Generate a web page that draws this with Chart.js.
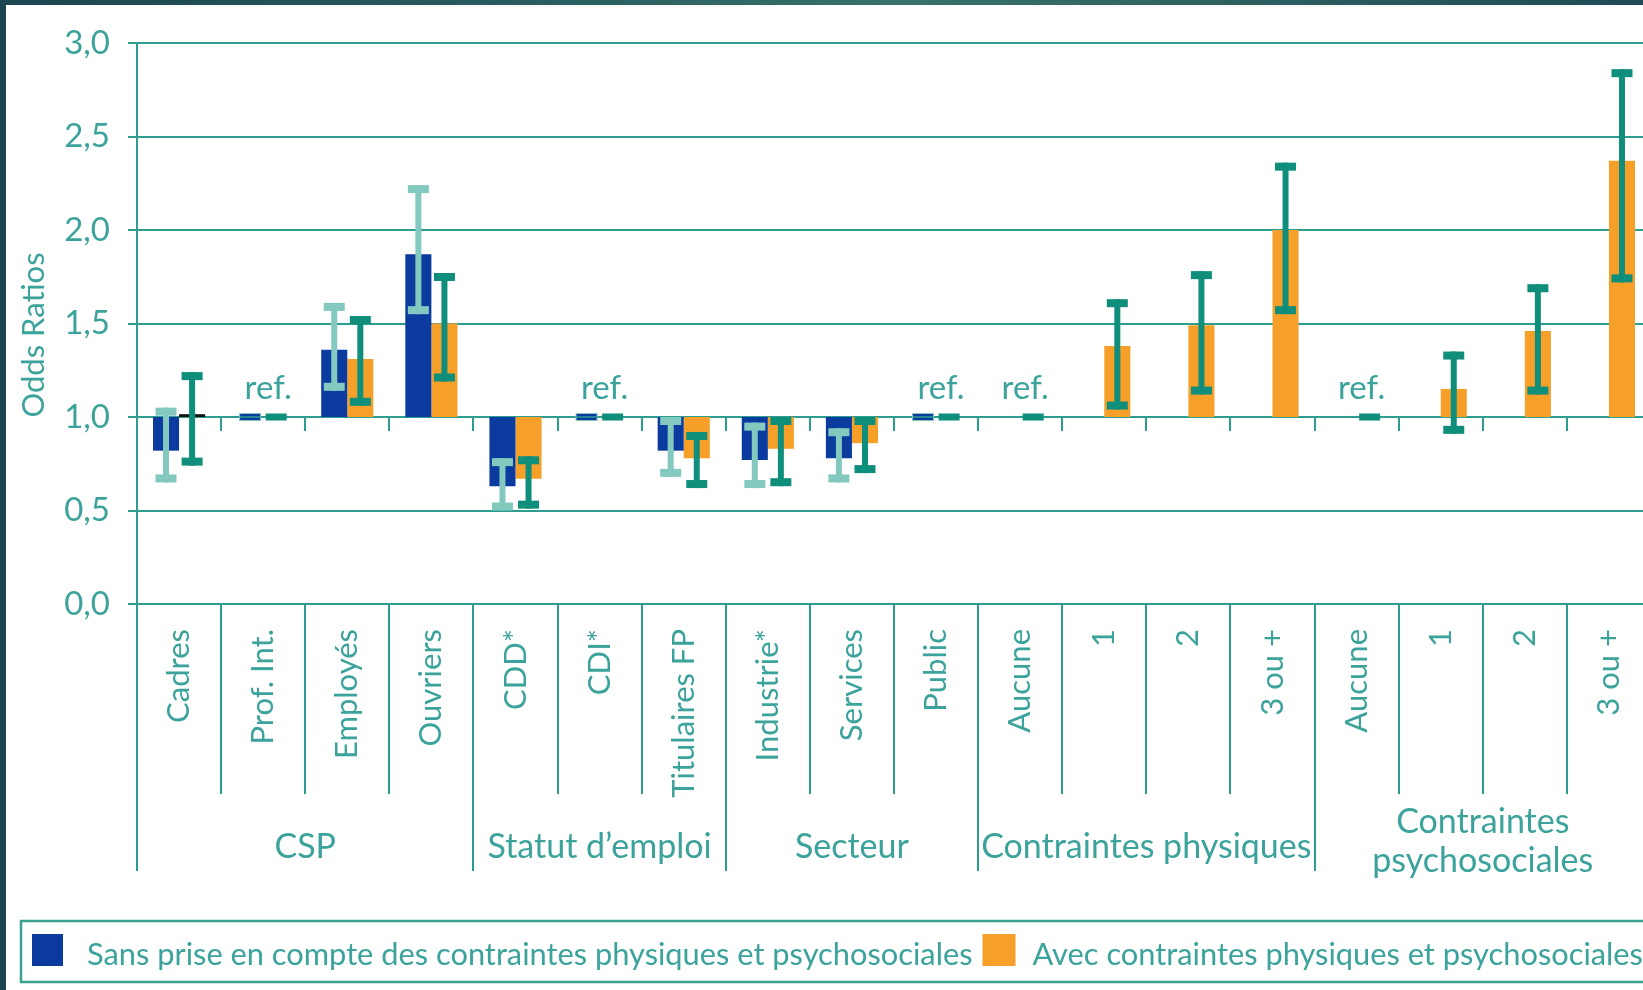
<!DOCTYPE html>
<html>
<head>
<meta charset="utf-8">
<script src="https://cdn.jsdelivr.net/npm/chart.js@4.4.1/dist/chart.umd.min.js"></script>
<style>
  html, body { margin: 0; padding: 0; width: 1643px; height: 990px; overflow: hidden; }
  body { position: relative; background: linear-gradient(90deg, #1b4550 0%, #2a5f60 35%, #3a716a 55%, #2a5d5e 80%, #1e4a55 100%); }
  #panel { position: absolute; left: 6px; top: 5px; width: 1700px; height: 985px; background: #fff; }
</style>
</head>
<body>
<div id="panel"><canvas id="odds-ratios" width="1700" height="985"></canvas></div>
<script>
const categories = ['Cadres', 'Prof. Int.', 'Employés', 'Ouvriers', 'CDD*', 'CDI*', 'Titulaires FP', 'Industrie*', 'Services', 'Public',
  'Aucune', '1', '2', '3 ou +', 'Aucune', '1', '2', '3 ou +'];

const groupLabels = [['CSP'], ['Statut d’emploi'], ['Secteur'], ['Contraintes physiques'], ['Contraintes', 'psychosociales']];
const groupSizes = [4, 3, 3, 4, 4];

// "Sans prise en compte..." (bleu)
const sansValues = [0.82, null, 1.36, 1.87, 0.63, null, 0.82, 0.77, 0.78, null, null, null, null, null, null, null, null, null];
const sansLow    = [0.65, null, 1.14, 1.55, 0.50, null, 0.68, 0.62, 0.65, null, null, null, null, null, null, null, null, null];
const sansHigh   = [1.05, null, 1.61, 2.24, 0.78, null, 1.00, 0.97, 0.94, null, null, null, null, null, null, null, null, null];
const sansRef    = [1, 5, 9];

// "Avec contraintes..." (orange)
const avecValues = [1.015, null, 1.31, 1.50, 0.67, null, 0.78, 0.83, 0.86, null, null, 1.38, 1.49, 2.00, null, 1.15, 1.46, 2.37];
const avecLow    = [0.74, null, 1.06, 1.19, 0.51, null, 0.62, 0.63, 0.70, null, null, 1.04, 1.12, 1.55, null, 0.91, 1.12, 1.72];
const avecHigh   = [1.24, null, 1.54, 1.77, 0.79, null, 0.92, 1.00, 1.00, null, null, 1.63, 1.78, 2.36, null, 1.35, 1.71, 2.86];
const avecRef    = [1, 5, 9, 10, 14];

const refLabels = [1, 5, 9, 10, 14];

const TEAL = '#2c9d8f';
const TEXT = '#3ba39b';
const BLUE = '#0c3b9f';
const ORANGE = '#f6a02a';
const CI_LIGHT = '#84c9c0';
const CI_DARK = '#0f8e7b';
const FONT = 'Lato';
const catPct = 0.62;

function slotX(chart, dsIndex, i) {
  const xs = chart.scales.x;
  const cw = xs.getPixelForValue(1) - xs.getPixelForValue(0);
  const slot = cw * catPct / 2;
  return xs.getPixelForValue(i) + (dsIndex === 0 ? -slot / 2 : slot / 2);
}

function drawCI(chart, dsIndex, lows, highs, color) {
  const ctx = chart.ctx, ys = chart.scales.y;
  ctx.fillStyle = color;
  lows.forEach((lo, i) => {
    if (lo == null) return;
    const x = slotX(chart, dsIndex, i);
    const yHi = ys.getPixelForValue(highs[i]);
    const yLo = ys.getPixelForValue(lo);
    ctx.fillRect(x - 3, yHi, 6, yLo - yHi);
    ctx.fillRect(x - 10.5, yHi, 21, 8);
    ctx.fillRect(x - 10.5, yLo - 8, 21, 8);
  });
}

function drawRef(chart, dsIndex, refs, color, outline) {
  const ctx = chart.ctx, y1 = chart.scales.y.getPixelForValue(1);
  refs.forEach(i => {
    const x = slotX(chart, dsIndex, i);
    ctx.fillStyle = color;
    ctx.fillRect(x - 10.5, y1 - 3.5, 21, 7);
    if (outline) {
      ctx.strokeStyle = outline;
      ctx.lineWidth = 1;
      ctx.strokeRect(x - 10.5, y1 - 3.5, 21, 7);
      ctx.strokeStyle = TEAL;
      ctx.lineWidth = 1.5;
      ctx.beginPath(); ctx.moveTo(x - 10, y1); ctx.lineTo(x + 10, y1); ctx.stroke();
    }
  });
}

const decorations = {
  id: 'decorations',
  afterDatasetsDraw(chart) {
    const ctx = chart.ctx;
    ctx.save();
    drawCI(chart, 0, sansLow, sansHigh, CI_LIGHT);
    drawCI(chart, 1, avecLow, avecHigh, CI_DARK);
    drawRef(chart, 0, sansRef, BLUE, CI_LIGHT);
    drawRef(chart, 1, avecRef, CI_DARK);
    ctx.restore();
  },
  afterDraw(chart) {
    const ctx = chart.ctx, xs = chart.scales.x, ys = chart.scales.y;
    const area = chart.chartArea;
    const cw = xs.getPixelForValue(1) - xs.getPixelForValue(0);
    const y1 = ys.getPixelForValue(1);
    ctx.save();
    ctx.strokeStyle = TEAL;
    ctx.lineWidth = 2;

    // small ticks under the 1,0 line
    for (let k = 1; k < categories.length; k++) {
      const x = Math.round(area.left + k * cw);
      ctx.beginPath(); ctx.moveTo(x, y1); ctx.lineTo(x, y1 + 14); ctx.stroke();
    }

    // dividers under the axis
    const groupEdges = [0];
    groupSizes.forEach(s => groupEdges.push(groupEdges[groupEdges.length - 1] + s));
    for (let k = 0; k <= categories.length; k++) {
      const x = Math.round(area.left + k * cw);
      const long = groupEdges.includes(k);
      ctx.beginPath(); ctx.moveTo(x, area.bottom); ctx.lineTo(x, long ? 866 : 789); ctx.stroke();
    }

    // group labels
    ctx.fillStyle = TEXT;
    ctx.textAlign = 'center';
    ctx.textBaseline = 'middle';
    ctx.font = '34px ' + FONT;
    groupLabels.forEach((lines, g) => {
      const cx = area.left + (groupEdges[g] + groupEdges[g + 1]) / 2 * cw;
      if (lines.length === 1) {
        ctx.fillText(lines[0], cx, 842);
      } else {
        ctx.fillText(lines[0], cx, 817);
        ctx.fillText(lines[1], cx, 856);
      }
    });

    // ref. labels
    ctx.font = '33px ' + FONT;
    ctx.textBaseline = 'alphabetic';
    refLabels.forEach(i => ctx.fillText('ref.', xs.getPixelForValue(i) + 5, y1 - 18));

    // y title
    ctx.save();
    ctx.translate(28, 330);
    ctx.rotate(-Math.PI / 2);
    ctx.font = '31px ' + FONT;
    ctx.textBaseline = 'middle';
    ctx.fillText('Odds Ratios', 0, 0);
    ctx.restore();

    // legend
    ctx.strokeStyle = '#3aa090';
    ctx.lineWidth = 2.5;
    ctx.strokeRect(15, 916, 1800, 61);
    ctx.font = '30.8px ' + FONT;
    ctx.textAlign = 'left';
    ctx.textBaseline = 'alphabetic';
    const ds = chart.data.datasets;
    ctx.fillStyle = BLUE;
    ctx.fillRect(26, 929, 31, 32);
    ctx.fillStyle = TEXT;
    ctx.fillText(ds[0].label, 81, 960);
    const end1 = 81 + ctx.measureText(ds[0].label).width;
    ctx.fillStyle = ORANGE;
    ctx.fillRect(end1 + 10, 929, 33, 32);
    ctx.fillStyle = TEXT;
    ctx.fillText(ds[1].label, end1 + 60, 960);
    ctx.restore();
  }
};

new Chart(document.getElementById('odds-ratios'), {
  type: 'bar',
  data: {
    labels: categories,
    datasets: [
      {
        label: 'Sans prise en compte des contraintes physiques et psychosociales',
        data: sansValues.map(v => v == null ? null : [1, v]),
        backgroundColor: BLUE,
        categoryPercentage: catPct,
        barPercentage: 1.0
      },
      {
        label: 'Avec contraintes physiques et psychosociales',
        data: avecValues.map(v => v == null ? null : [1, v]),
        backgroundColor: avecValues.map((v, i) => i === 0 ? '#111111' : ORANGE),
        categoryPercentage: catPct,
        barPercentage: 1.0
      }
    ]
  },
  options: {
    responsive: false,
    animation: false,
    layout: { padding: { top: 38, right: 55, bottom: 0, left: 0 } },
    plugins: { legend: { display: false }, tooltip: { enabled: false } },
    scales: {
      x: {
        grid: { display: false, drawTicks: false },
        border: { display: false },
        ticks: {
          autoSkip: false, minRotation: 90, maxRotation: 90, padding: 25,
          color: TEXT, font: { family: FONT, size: 31 }
        },
        afterFit(scale) { scale.height = 386; }
      },
      y: {
        min: 0, max: 3,
        ticks: {
          stepSize: 0.5, padding: 18, color: TEXT,
          font: { family: FONT, size: 33 },
          callback: v => v.toFixed(1).replace('.', ',')
        },
        grid: { color: TEAL, lineWidth: 2, tickLength: 9, tickColor: TEAL },
        border: { display: true, color: TEAL, width: 2 },
        afterFit(scale) { scale.width = 131; }
      }
    }
  },
  plugins: [decorations]
});
</script>
</body>
</html>
